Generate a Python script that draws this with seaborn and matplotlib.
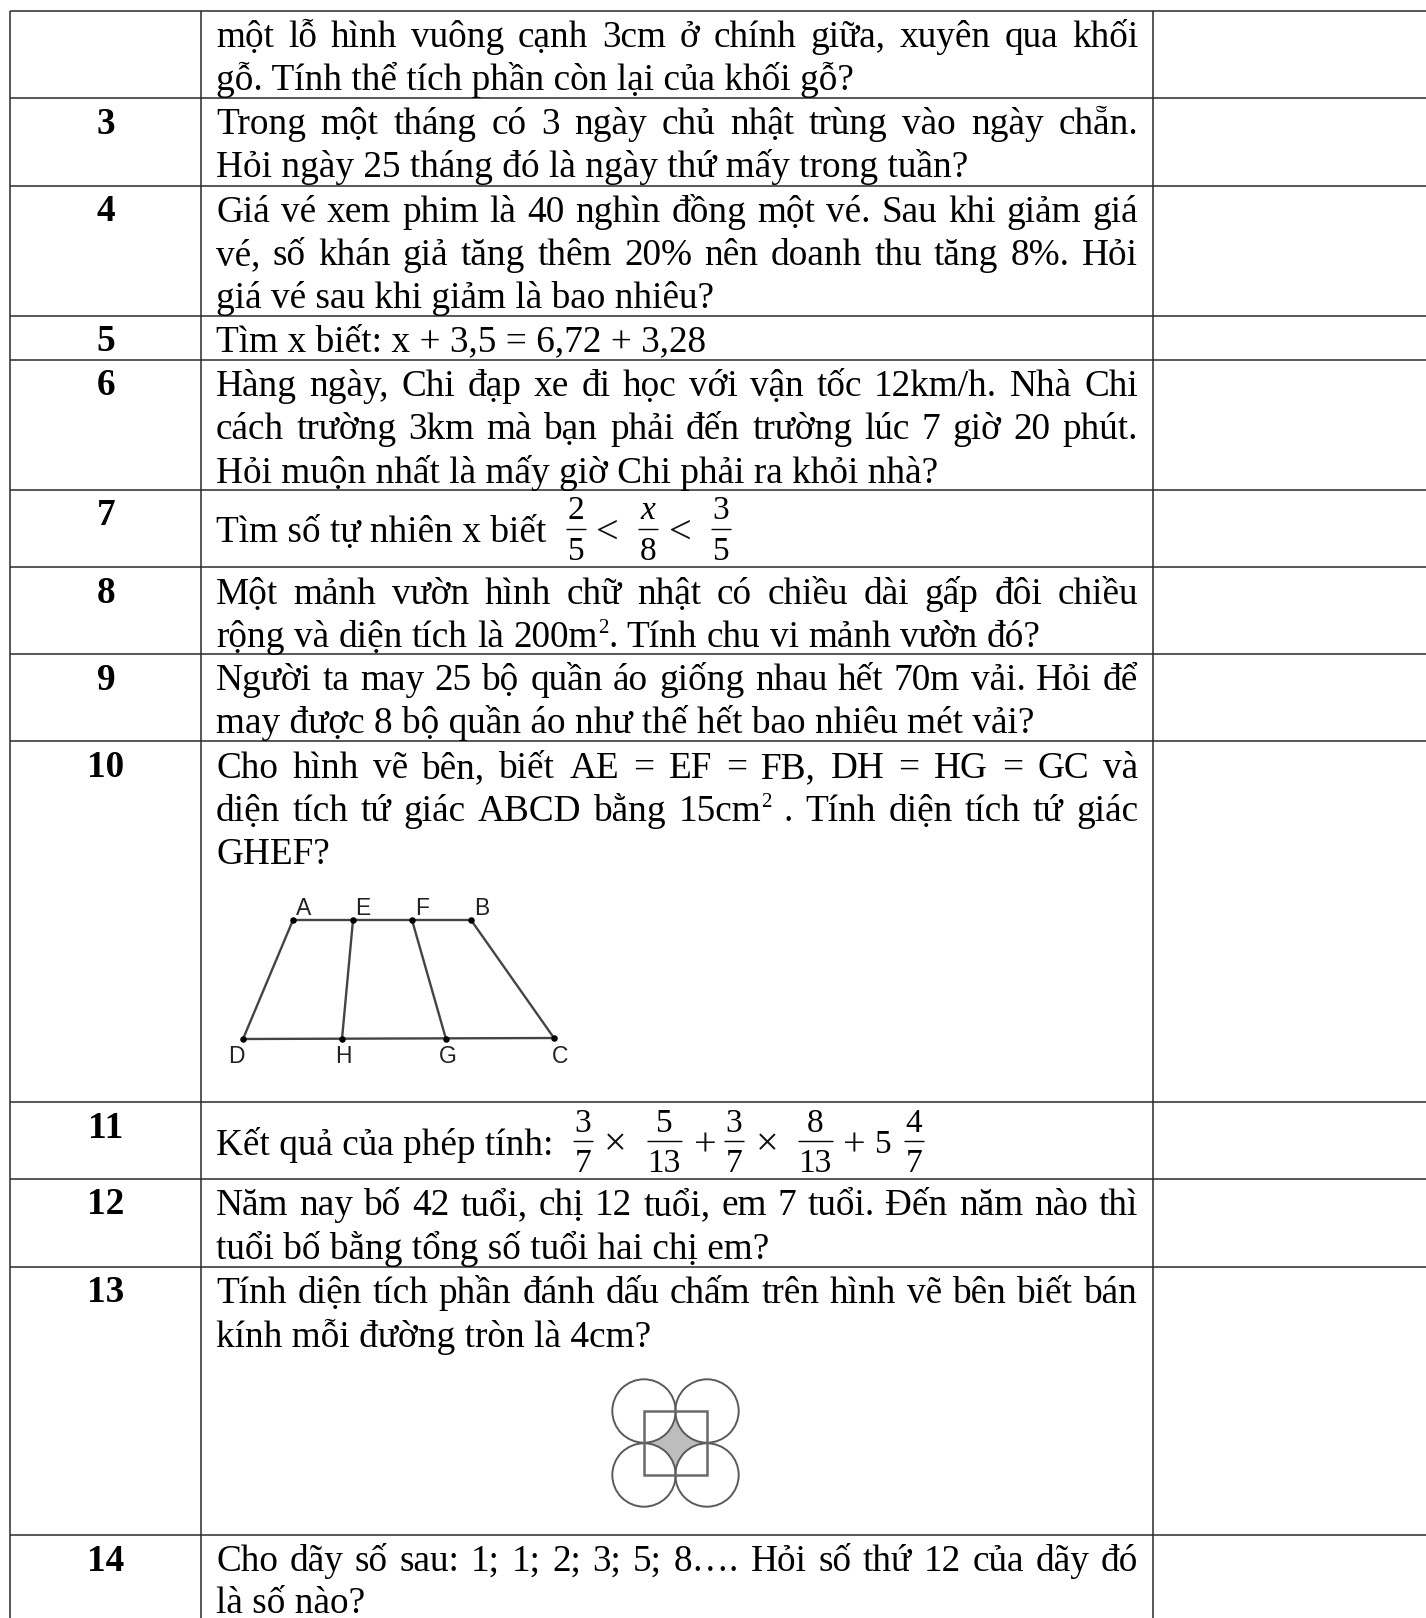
import numpy as np
import matplotlib.pyplot as plt
from matplotlib.patches import Circle, Rectangle
import seaborn as sns

# Bảng: vị trí các đường kẻ (pixel)
row_lines = [11, 98, 186, 316, 360, 490, 567, 654, 741, 1102, 1179, 1267, 1535]
col_lines = [10, 201, 1153]

# số thứ tự câu, baseline
numbers = ['3', '4', '5', '6', '7', '8', '9', '10', '11', '12', '13', '14']
number_y = [134, 221, 351, 395, 525, 603, 690, 777, 1138, 1214, 1302, 1571]

# (baseline, nội dung, căn đều hay không), ^2 là số mũ
lines = [
    (47, 'một lỗ hình vuông cạnh 3cm ở chính giữa, xuyên qua khối', True),
    (90, 'gỗ. Tính thể tích phần còn lại của khối gỗ?', False),
    (134, 'Trong một tháng có 3 ngày chủ nhật trùng vào ngày chẵn.', True),
    (177, 'Hỏi ngày 25 tháng đó là ngày thứ mấy trong tuần?', False),
    (222, 'Giá vé xem phim là 40 nghìn đồng một vé. Sau khi giảm giá', True),
    (265, 'vé, số khán giả tăng thêm 20% nên doanh thu tăng 8%. Hỏi', True),
    (308, 'giá vé sau khi giảm là bao nhiêu?', False),
    (351, 'Tìm x biết: x + 3,5 = 6,72 + 3,28', False),
    (396, 'Hàng ngày, Chi đạp xe đi học với vận tốc 12km/h.  Nhà Chi', True),
    (439, 'cách trường 3km mà bạn phải đến trường lúc 7 giờ 20 phút.', True),
    (483, 'Hỏi muộn nhất là mấy giờ Chi phải ra khỏi nhà?', False),
    (542, 'Tìm số tự nhiên x biết', False),
    (604, 'Một mảnh vườn hình chữ nhật có chiều dài gấp đôi chiều', True),
    (647, 'rộng và diện tích là 200m^2. Tính chu vi mảnh vườn đó?', False),
    (690, 'Người ta may 25 bộ quần áo giống nhau hết 70m vải. Hỏi để', True),
    (733, 'may được 8 bộ quần áo như thế hết bao nhiêu mét vải?', False),
    (778, 'Cho hình vẽ bên, biết AE = EF = FB, DH = HG = GC và', True),
    (821, 'diện tích tứ giác ABCD bằng 15cm^2 . Tính diện tích tứ giác', True),
    (864, 'GHEF?', False),
    (1155, 'Kết quả của phép tính:', False),
    (1215, 'Năm nay bố 42 tuổi, chị 12 tuổi, em 7 tuổi. Đến năm nào thì', True),
    (1259, 'tuổi bố bằng tổng số tuổi hai chị em?', False),
    (1303, 'Tính diện tích phần đánh dấu chấm trên hình vẽ bên biết bán', True),
    (1347, 'kính mỗi đường tròn là 4cm?', False),
    (1571, 'Cho dãy số sau: 1; 1; 2; 3; 5; 8…. Hỏi số thứ 12 của dãy đó', True),
    (1613, 'là số nào?', False),
]

# phân số: x giữa, tử, mẫu
frac_row7 = [(576, '2', '5'), (648, 'x', '8'), (721, '3', '5')]
frac_row11 = [(583, '3', '7'), (664, '5', '13'), (734, '3', '7'), (815, '8', '13'), (914, '4', '7')]
signs_row7 = [(607, '<'), (680, '<')]
signs_row11 = [(615, '×'), (705, '+'), (767, '×'), (854, '+')]

# hình thang
points = {'A': (293, 920), 'E': (353, 920), 'F': (412, 920), 'B': (471, 920),
          'D': (243, 1039), 'H': (342, 1039), 'G': (446, 1039), 'C': (554, 1038)}
segments = ['AB', 'DC', 'AD', 'EH', 'FG', 'BC']
point_labels = {'A': (304, 915), 'E': (363, 915), 'F': (422, 915), 'B': (482, 915),
                'D': (236, 1063), 'H': (343, 1063), 'G': (448, 1063), 'C': (560, 1063)}

# bốn đường tròn
circle_x = [644, 707]
circle_y = [1411, 1475]
radius = 31.7

sns.set_theme(style='white')
plt.rcParams['font.family'] = ['Liberation Serif', 'DejaVu Serif']

fig = plt.figure(figsize=(14.26, 16.18), dpi=100, facecolor='white')
ax = fig.add_axes([0, 0, 1, 1])
ax.set_xlim(0, 1426)
ax.set_ylim(1618, 0)
ax.axis('off')

LINE = '#2a2a2a'
FS = 26.85
FRAC_FS = 24
LEFT, RIGHT = 216, 1138
SPACE = 9.3

# đường kẻ bảng
ax.hlines(row_lines, col_lines[0], 1426, color=LINE, lw=1.1)
ax.vlines(col_lines, row_lines[0], 1618, color=LINE, lw=1.1)

renderer = fig.canvas.get_renderer()


def put(x, y, s, size=FS):
    t = ax.text(x, y, s, fontsize=size, color='black', va='baseline', ha='left')
    return t.get_window_extent(renderer).width


def word_parts(word):
    # chia một từ thành các đoạn (chữ, cỡ, độ nâng)
    if '^2' not in word:
        return [(word, FS, 0)]
    head, tail = word.split('^2')
    parts = [(head, FS, 0), ('2', 15, 14.5)]
    if tail:
        parts.append((tail, FS, 0))
    return parts


def measure(word):
    total = 0
    for s, size, rise in word_parts(word):
        t = ax.text(0, 0, s, fontsize=size)
        total += t.get_window_extent(renderer).width
        t.remove()
    return total


def draw_line(y, s, justify):
    if not justify and '^2' not in s:
        put(LEFT, y, s)
        return
    words = s.split()
    widths = [measure(w) for w in words]
    gap = (RIGHT - LEFT - sum(widths)) / (len(words) - 1) if justify else SPACE
    x = LEFT
    for word, w in zip(words, widths):
        px = x
        for part, size, rise in word_parts(word):
            px += put(px, y - rise, part, size)
        x += w + gap


for y, s, j in lines:
    draw_line(y, s, j)

for n, y in zip(numbers, number_y):
    ax.text(106, y, n, fontsize=FS, fontweight='bold', ha='center', va='baseline', color='black')


def draw_fracs(fracs, signs, num_y, bar_y, den_y, sign_y):
    for x, a, b in fracs:
        half = 10 if len(b) == 1 else 17.5
        ax.hlines(bar_y, x - half, x + half, color='black', lw=1.0)
        style = 'italic' if a == 'x' else 'normal'
        ax.text(x, num_y, a, fontsize=FRAC_FS, style=style, ha='center', va='baseline', color='black')
        ax.text(x, den_y, b, fontsize=FRAC_FS, ha='center', va='baseline', color='black')
    for x, s in signs:
        ax.text(x, sign_y, s, fontsize=29, ha='center', va='baseline', color='#111111')


draw_fracs(frac_row7, signs_row7, 519, 529, 560, 543)
draw_fracs(frac_row11, signs_row11, 1132, 1141, 1172, 1155)
ax.text(883, 1153, '5', fontsize=FRAC_FS, ha='center', va='baseline', color='black')

# hình thang ABCD
for seg in segments:
    p, q = points[seg[0]], points[seg[1]]
    sns.lineplot(x=[p[0], q[0]], y=[p[1], q[1]], ax=ax, color='#444444', lw=1.7,
                 estimator=None, sort=False, legend=False)
sns.scatterplot(x=[p[0] for p in points.values()], y=[p[1] for p in points.values()],
                ax=ax, color='black', s=22, linewidth=0, legend=False, zorder=4)
for k, (x, y) in point_labels.items():
    ax.text(x, y, k, fontsize=16.5, family='Liberation Sans', ha='center', va='baseline', color='#222222')

# hình bốn đường tròn: nền xám, phủ trắng bằng các hình tròn
ax.add_patch(Rectangle((circle_x[0], circle_y[0]), circle_x[1] - circle_x[0], circle_y[1] - circle_y[0],
                       facecolor='#bdbdbd', edgecolor='none', zorder=2))
for cx in circle_x:
    for cy in circle_y:
        ax.add_patch(Circle((cx, cy), radius, facecolor='white', edgecolor='none', zorder=3))
for cx in circle_x:
    for cy in circle_y:
        ax.add_patch(Circle((cx, cy), radius, facecolor='none', edgecolor='#5a5a5a', lw=1.4, zorder=5))
ax.add_patch(Rectangle((circle_x[0], circle_y[0]), circle_x[1] - circle_x[0], circle_y[1] - circle_y[0],
                       facecolor='none', edgecolor='#6a6a6a', lw=1.8, zorder=5))

ax.set_xlim(0, 1426)
ax.set_ylim(1618, 0)
ax.set_xlabel('')
ax.set_ylabel('')
fig.savefig('out.png', dpi=100)
